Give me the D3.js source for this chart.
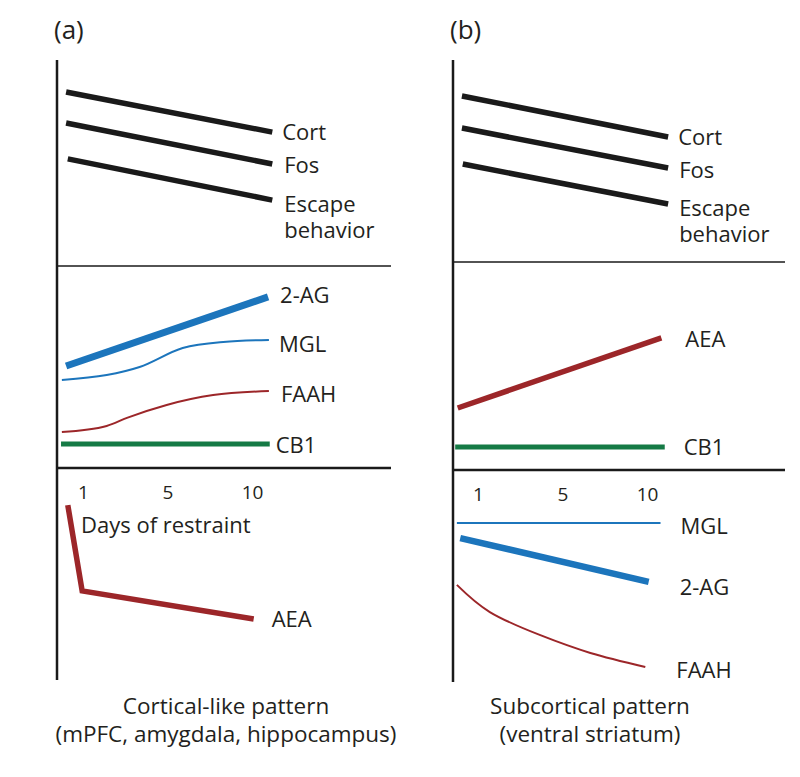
<!DOCTYPE html>
<html>
<head>
<meta charset="utf-8">
<script src="https://cdn.jsdelivr.net/npm/d3@7"></script>
<style>
  body { margin: 0; background: #fff; }
  text { font-family: "Open Sans", "DejaVu Sans", sans-serif; fill: #231f20; }
</style>
</head>
<body>
<div id="chart"></div>
<script>
// Days of restraint - ticks sit at index positions 0, 1, 2
const dayTicks = ['1', '5', '10']

// Relative levels (0-100) inside each strip, x in tick-index units
// (a) cortical-like, top strip
const aCort = [[-0.2, 84.5], [2.24, 65.0]]
const aFos = [[-0.2, 69.4], [2.24, 49.5]]
const aEscape = [[-0.18, 52.0], [2.24, 32.0]]
// (a) middle strip
const a2AG = [[-0.2, 50.5], [2.19, 84.7]]
const aMGL = [[-0.25, 43.6], [0.28, 46.0], [0.67, 50.0], [1.18, 59.4], [1.66, 62.4], [2.2, 63.4]]
const aFAAH = [[-0.25, 17.8], [0.28, 20.8], [0.52, 24.8], [0.99, 31.2], [1.54, 36.1], [2.2, 38.1]]
const aCB1 = [[-0.26, 11.9], [2.21, 11.9]]
// (a) bottom strip
const aAEA = [[-0.18, 82.5], [-0.01, 42.0], [2.02, 28.8]]

// (b) subcortical, top strip
const bCort = [[-0.19, 82.2], [2.25, 61.9]]
const bFos = [[-0.19, 66.3], [2.25, 46.5]]
const bEscape = [[-0.18, 48.5], [2.25, 28.7]]
// (b) middle strip
const bAEA = [[-0.24, 29.8], [2.17, 63.5]]
const bCB1 = [[-0.27, 11.1], [2.21, 11.1]]
// (b) bottom strip
const bMGL = [[-0.25, 75.0], [2.16, 75.0]]
const b2AG = [[-0.21, 67.9], [2.02, 47.2]]
const bFAAH = [[-0.25, 45.8], [0.14, 33.0], [0.73, 22.2], [1.33, 13.7], [1.98, 7.1]]

const titles = ['(a)', '(b)']
const captions = [
    ['Cortical-like pattern', '(mPFC, amygdala, hippocampus)'],
    ['Subcortical pattern', '(ventral striatum)']
]

const black = '#1a1a1a'
const blue = '#1c75bc'
const red = '#9c2629'
const green = '#157a45'

let chartWidth = 800
let chartHeight = 777

let svg = d3.select('#chart')
            .append('svg')
            .attr('width', chartWidth)
            .attr('height', chartHeight)

// Layout of the two panels
let panels = [
    { axisX: 57, x0: 83, x1: 252, right: 391, top: 60, div1: 266, div2: 468, bottom: 680, titleX: 54, captionX: 226,
      strips: [
        [
          { name: 'Cort', data: aCort, color: black, width: 5.5, dx: 10, dy: 8 },
          { name: 'Fos', data: aFos, color: black, width: 5.5, dx: 12, dy: 9 },
          { name: 'Escape', extra: 'behavior', data: aEscape, color: black, width: 5.5, dx: 12, dy: 12 }
        ],
        [
          { name: '2-AG', data: a2AG, color: blue, width: 7, dx: 12, dy: 6 },
          { name: 'MGL', data: aMGL, color: blue, width: 2, dx: 10, dy: 12, curve: d3.curveMonotoneX },
          { name: 'FAAH', data: aFAAH, color: red, width: 2, dx: 12, dy: 11, curve: d3.curveMonotoneX },
          { name: 'CB1', data: aCB1, color: green, width: 5, dx: 6, dy: 9 }
        ],
        [
          { name: 'AEA', data: aAEA, color: red, width: 5.5, dx: 18, dy: 8 }
        ]
      ] },
    { axisX: 453, x0: 478, x1: 647, right: 785, top: 60, div1: 262, div2: 470, bottom: 682, titleX: 450, captionX: 590,
      strips: [
        [
          { name: 'Cort', data: bCort, color: black, width: 5.5, dx: 10, dy: 8 },
          { name: 'Fos', data: bFos, color: black, width: 5.5, dx: 11, dy: 10 },
          { name: 'Escape', extra: 'behavior', data: bEscape, color: black, width: 5.5, dx: 11, dy: 12 }
        ],
        [
          { name: 'AEA', data: bAEA, color: red, width: 5.5, dx: 24, dy: 9 },
          { name: 'CB1', data: bCB1, color: green, width: 5, dx: 19, dy: 8 }
        ],
        [
          { name: 'MGL', data: bMGL, color: blue, width: 2, dx: 20, dy: 11 },
          { name: '2-AG', data: b2AG, color: blue, width: 6.5, dx: 31, dy: 13 },
          { name: 'FAAH', data: bFAAH, color: red, width: 2, dx: 31, dy: 11, curve: d3.curveNatural }
        ]
      ] }
]

panels.forEach((p, pi) => {
    let g = svg.append('g')
    let x = d3.scaleLinear().domain([0, 2]).range([p.x0, p.x1])

    // strip boundaries top -> bottom
    let bounds = [[p.div1, p.top], [p.div2, p.div1], [p.bottom, p.div2]]

    p.strips.forEach((strip, si) => {
        let y = d3.scaleLinear().domain([0, 100]).range(bounds[si])

        strip.forEach(s => {
            let line = d3.line()
                .x(d => x(d[0]))
                .y(d => y(d[1]))
                .curve(s.curve || d3.curveLinear)

            g.append('path')
                .attr('d', line(s.data))
                .attr('fill', 'none')
                .attr('stroke', s.color)
                .attr('stroke-width', s.width)
                .attr('stroke-linejoin', 'miter')

            let end = s.data[s.data.length - 1]
            let label = g.append('text')
                .attr('x', x(end[0]) + s.dx)
                .attr('y', y(end[1]) + s.dy)
                .attr('font-size', 22)
                .text(s.name)
            if (s.extra) {
                label.text(null)
                label.append('tspan').text(s.name)
                label.append('tspan')
                    .attr('x', x(end[0]) + s.dx)
                    .attr('dy', 26)
                    .text(s.extra)
            }
        })
    })

    // vertical axis and strip dividers
    g.append('line')
        .attr('x1', p.axisX).attr('x2', p.axisX)
        .attr('y1', p.top).attr('y2', p.bottom)
        .attr('stroke', black).attr('stroke-width', 2.5)
    g.append('line')
        .attr('x1', p.axisX).attr('x2', p.right)
        .attr('y1', p.div1).attr('y2', p.div1)
        .attr('stroke', black).attr('stroke-width', 1.5)
    g.append('line')
        .attr('x1', p.axisX).attr('x2', p.right)
        .attr('y1', p.div2).attr('y2', p.div2)
        .attr('stroke', black).attr('stroke-width', 2.5)

    // day ticks below the middle strip
    let axis = d3.axisBottom(x)
        .tickValues([0, 1, 2])
        .tickFormat(i => dayTicks[i])
        .tickSize(0)
    let ax = g.append('g')
        .attr('transform', `translate(0, ${p.div2 + 14})`)
        .call(axis)
    ax.select('.domain').remove()
    ax.selectAll('text')
        .attr('font-size', 19)
        .attr('font-family', '"Open Sans", sans-serif')
        .attr('fill', '#231f20')

    // panel letter
    g.append('text')
        .attr('x', p.titleX)
        .attr('y', 39)
        .attr('font-size', 26)
        .text(titles[pi])

    // caption
    captions[pi].forEach((c, ci) => {
        g.append('text')
            .attr('x', p.captionX)
            .attr('y', 714 + ci * 28)
            .attr('text-anchor', 'middle')
            .attr('font-size', 22.5)
            .text(c)
    })
})

// x axis title for (a)
svg.append('text')
    .attr('x', 81)
    .attr('y', 533)
    .attr('font-size', 22)
    .text('Days of restraint')
</script>
</body>
</html>
